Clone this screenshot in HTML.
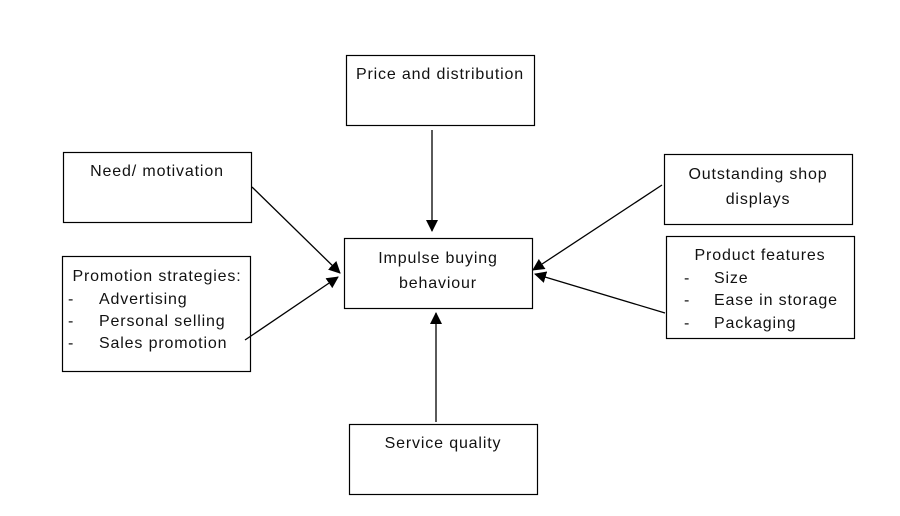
<!DOCTYPE html>
<html><head><meta charset="utf-8"><style>
html,body{margin:0;padding:0;background:#fff;}
svg{display:block;}
text{font-family:"Liberation Sans",sans-serif;font-size:16px;letter-spacing:0.85px;fill:#111;}
</style></head><body>
<svg width="900" height="516" viewBox="0 0 900 516" xmlns="http://www.w3.org/2000/svg">
<defs><marker id="a" markerWidth="12" markerHeight="12" refX="11" refY="6" orient="auto" markerUnits="userSpaceOnUse"><path d="M0,0 L12,6 L0,12 z" fill="#000"/></marker></defs>
<g fill="#fff" stroke="#000" stroke-width="1.2">
<rect x="346.5" y="55.5" width="188" height="70"/>
<rect x="63.5" y="152.5" width="188" height="70"/>
<rect x="344.5" y="238.5" width="188" height="70"/>
<rect x="664.5" y="154.5" width="188" height="70"/>
<rect x="62.5" y="256.5" width="188" height="115"/>
<rect x="666.5" y="236.5" width="188" height="102"/>
<rect x="349.5" y="424.5" width="188" height="70"/>
</g>
<g stroke="#000" stroke-width="1.3" marker-end="url(#a)">
<line x1="432" y1="130" x2="432" y2="231"/>
<line x1="252" y1="187" x2="340" y2="273"/>
<line x1="245" y1="340" x2="338" y2="277"/>
<line x1="662" y1="185" x2="533" y2="270"/>
<line x1="665" y1="313" x2="535" y2="274"/>
<line x1="436" y1="422" x2="436" y2="313"/>
</g>
<g text-anchor="middle">
<text x="440" y="79">Price and distribution</text>
<text x="157" y="176">Need/ motivation</text>
<text x="438" y="263">Impulse buying</text>
<text x="438" y="288">behaviour</text>
<text x="758" y="179">Outstanding shop</text>
<text x="758" y="204">displays</text>
<text x="443" y="448">Service quality</text>
<text x="157" y="281">Promotion strategies:</text>
<text x="760" y="260">Product features</text>
</g>
<text x="68" y="304">-</text><text x="99" y="304">Advertising</text>
<text x="68" y="326">-</text><text x="99" y="326">Personal selling</text>
<text x="68" y="348">-</text><text x="99" y="348">Sales promotion</text>
<text x="684" y="283">-</text><text x="714" y="283">Size</text>
<text x="684" y="305">-</text><text x="714" y="305">Ease in storage</text>
<text x="684" y="328">-</text><text x="714" y="328">Packaging</text>
</svg>
</body></html>
